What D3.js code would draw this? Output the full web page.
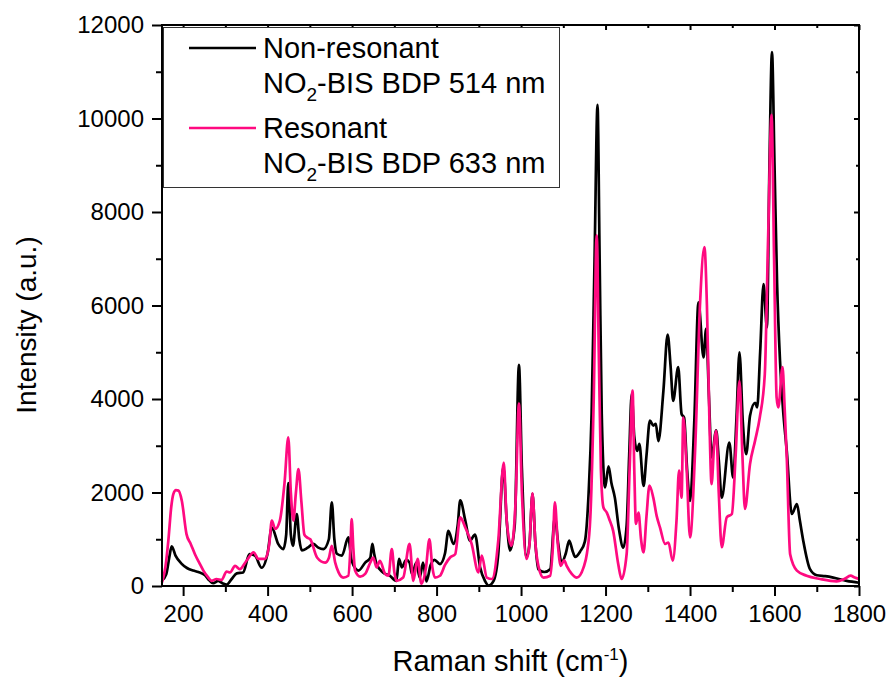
<!DOCTYPE html>
<html lang="en">
	<head>
		<meta charset="utf-8">
		<title>raman</title>
		<script src="https://d3js.org/d3.v7.min.js"></script>
		<style type="text/css">
		body { margin: 0; background: #fff; }
		text {
				font-family: "Liberation Sans", Arial, sans-serif;
				fill: #000;
		}
		</style>
	</head>
	<body>
		<script type="text/javascript">

			// Non-resonant, 514 nm (black)
			var shift514 = [150,160,167,173,182,196,210,224,236,252,262,271,283,293,303,315,327,342,357,370,386,400,410,425,437,444,449,455,460,469,475,481,495,508,520,532,545,552,558,564,576,591,599,615,631,643,648,652,658,673,689,705,711,718,728,736,742,752,760,768,776,786,795,808,820,828,840,850,856,868,879,891,903,915,923,935,946,958,966,974,985,995,1002,1013,1020,1027,1034,1041,1055,1069,1080,1088,1096,1106,1114,1122,1128,1140,1151,1160,1167,1174,1181,1186,1191,1199,1207,1214,1222,1232,1242,1250,1256,1262,1268,1275,1280,1290,1297,1305,1313,1319,1325,1337,1347,1354,1360,1372,1380,1386,1393,1400,1410,1420,1432,1438,1445,1451,1462,1468,1475,1493,1502,1510,1517,1525,1533,1542,1554,1559,1566,1574,1582,1588,1594,1600,1606,1613,1620,1629,1641,1653,1660,1668,1684,1700,1720,1739,1771,1800];
			var intensity514 = [120,250,600,850,650,480,380,330,300,230,120,60,110,60,30,150,270,290,680,650,390,700,1250,900,790,1100,2200,1100,860,1540,1000,760,820,900,820,790,1000,1790,1000,690,650,1040,540,330,500,600,900,700,470,290,220,110,580,400,560,500,250,500,180,500,100,450,560,470,700,1180,900,1300,1830,1400,970,1100,400,100,10,110,680,2550,1400,760,1300,4730,2500,610,900,1970,900,360,300,360,1470,900,500,700,970,750,620,740,950,2000,3680,7000,10290,7000,3680,2110,2560,2200,1890,1200,820,1300,2800,4110,3200,2890,3040,2140,2800,3540,3430,3470,3100,4180,5380,4700,3960,4680,3680,3600,2500,1820,3500,6070,4890,5500,4000,2750,3330,2700,1890,3070,2320,3600,5000,3500,2820,3640,3920,3820,5000,6460,5530,9000,11420,9000,6500,4820,3800,2890,1540,1750,1400,970,360,230,210,180,110,70];

			// Resonant, 633 nm (magenta)
			var shift633 = [150,158,165,172,177,183,189,197,208,218,228,238,248,258,268,279,291,303,311,323,334,350,367,378,394,404,410,418,429,440,449,455,461,467,473,480,487,493,501,517,536,545,552,560,568,579,591,596,599,603,607,619,631,643,650,658,666,678,686,694,700,705,721,736,745,755,764,775,783,790,796,808,820,832,844,856,868,883,899,907,919,931,946,959,966,977,987,995,1002,1013,1020,1027,1034,1041,1053,1069,1075,1080,1087,1094,1102,1108,1120,1132,1148,1156,1164,1172,1179,1184,1189,1195,1203,1210,1218,1230,1238,1250,1257,1264,1268,1272,1278,1284,1290,1297,1304,1313,1321,1329,1341,1349,1359,1368,1374,1380,1384,1392,1400,1412,1424,1434,1440,1446,1451,1457,1462,1468,1475,1487,1499,1508,1517,1524,1530,1542,1554,1565,1577,1585,1593,1599,1605,1609,1619,1624,1629,1637,1653,1676,1708,1747,1765,1780,1790,1800];
			var intensity633 = [80,400,970,1700,1970,2050,2040,1820,1110,900,680,500,330,200,110,150,130,310,290,430,360,540,720,580,580,900,1400,1220,1400,2200,3180,2000,1400,2000,2500,1800,1100,1040,1000,610,500,600,860,500,290,180,220,800,1430,800,330,200,260,500,610,400,540,260,220,790,300,110,180,900,110,580,50,400,1000,400,180,220,450,610,680,1470,1250,900,290,650,180,150,970,2640,1400,860,1800,3900,2000,580,900,1980,900,430,180,220,800,1790,900,430,550,430,260,180,400,700,1470,4000,7500,5000,2500,1680,1570,1400,1180,470,150,690,2500,4180,2500,1330,1570,1000,720,1500,2150,1890,1500,1250,900,930,540,1400,2470,1890,3600,2500,1040,2900,6100,7250,6000,3500,2180,3000,3320,2000,830,1470,1540,2800,4390,2800,1650,2610,3110,3600,4530,7500,10080,7000,4030,3820,4680,3800,2750,680,330,220,150,100,150,220,180,150];

			var xTicks = [200, 400, 600, 800, 1000, 1200, 1400, 1600, 1800];
			var yTicks = [0, 2000, 4000, 6000, 8000, 10000, 12000];

			var w = 890, h = 679;
			var pL = 162, pR = 859, pT = 25, pB = 586;

			var svg = d3.select("body").append("svg")
				.attr("width", w)
				.attr("height", h);

			var x = d3.scaleLinear().domain([150, 1800]).range([pL, pR]);
			var y = d3.scaleLinear().domain([0, 12000]).range([pB, pT]);

			// minor ticks
			var xMinor = d3.range(300, 1800, 200);
			var yMinor = d3.range(1000, 12000, 2000);

			function styleAxis(g) {
				g.select(".domain").remove();
				g.selectAll("line").attr("stroke", "#000").attr("stroke-width", 2);
			}

			// bottom
			svg.append("g").attr("transform", "translate(0," + pB + ")")
				.call(d3.axisBottom(x).tickValues(xTicks).tickSize(10).tickPadding(9).tickFormat(d3.format("d")))
				.call(styleAxis)
				.selectAll("text").style("font-size", "24px").attr("fill", "#000");
			svg.append("g").attr("transform", "translate(0," + pB + ")")
				.call(d3.axisBottom(x).tickValues(xMinor).tickSize(6).tickFormat(""))
				.call(styleAxis);
			// top
			svg.append("g").attr("transform", "translate(0," + pT + ")")
				.call(d3.axisBottom(x).tickValues(xTicks).tickSize(5).tickFormat(""))
				.call(styleAxis);
			svg.append("g").attr("transform", "translate(0," + pT + ")")
				.call(d3.axisBottom(x).tickValues(xMinor).tickSize(3).tickFormat(""))
				.call(styleAxis);
			// left
			svg.append("g").attr("transform", "translate(" + pL + ",0)")
				.call(d3.axisLeft(y).tickValues(yTicks).tickSize(10).tickPadding(8).tickFormat(d3.format("d")))
				.call(styleAxis)
				.selectAll("text").style("font-size", "24px").attr("fill", "#000");
			svg.append("g").attr("transform", "translate(" + pL + ",0)")
				.call(d3.axisLeft(y).tickValues(yMinor).tickSize(6).tickFormat(""))
				.call(styleAxis);
			// right
			svg.append("g").attr("transform", "translate(" + pR + ",0)")
				.call(d3.axisLeft(y).tickValues(yTicks).tickSize(5).tickFormat(""))
				.call(styleAxis);
			svg.append("g").attr("transform", "translate(" + pR + ",0)")
				.call(d3.axisLeft(y).tickValues(yMinor).tickSize(3).tickFormat(""))
				.call(styleAxis);

			var line = d3.line()
				.x(function(d) { return x(d[0]); })
				.y(function(d) { return y(d[1]); })
				.curve(d3.curveMonotoneX);

			var data514 = d3.zip(shift514, intensity514);
			var data633 = d3.zip(shift633, intensity633);

			svg.append("path").datum(data514)
				.attr("d", line)
				.attr("fill", "none").attr("stroke", "#000").attr("stroke-width", 2.7)
				.attr("stroke-linejoin", "round");

			svg.append("path").datum(data633)
				.attr("d", line)
				.attr("fill", "none").attr("stroke", "#ff0a80").attr("stroke-width", 2.7)
				.attr("stroke-linejoin", "round");

			// frame
			svg.append("rect")
				.attr("x", pL).attr("y", pT)
				.attr("width", pR - pL).attr("height", pB - pT)
				.attr("fill", "none").attr("stroke", "#000").attr("stroke-width", 2);

			// axis titles
			var xt = svg.append("text")
				.attr("x", (pL + pR) / 2).attr("y", 671)
				.attr("text-anchor", "middle")
				.style("font-size", "29px");
			xt.append("tspan").text("Raman shift (cm");
			xt.append("tspan").attr("dy", -11).style("font-size", "17px").text("-1");
			xt.append("tspan").attr("dy", 11).text(")");

			svg.append("text")
				.attr("transform", "translate(36,325) rotate(-90)")
				.attr("text-anchor", "middle")
				.style("font-size", "28px")
				.text("Intensity (a.u.)");

			// legend
			var lg = svg.append("g");
			lg.append("rect")
				.attr("x", 163.5).attr("y", 27.5).attr("width", 396).attr("height", 160)
				.attr("fill", "#fff").attr("stroke", "#333").attr("stroke-width", 1);

			var legendItems = [
				{ color: "#000", name: "Non-resonant", nm: "514 nm", y: 48 },
				{ color: "#ff0a80", name: "Resonant", nm: "633 nm", y: 128 }
			];
			legendItems.forEach(function(d) {
				lg.append("line")
					.attr("x1", 189).attr("x2", 256)
					.attr("y1", d.y).attr("y2", d.y)
					.attr("stroke", d.color).attr("stroke-width", 2.5);
				lg.append("text").attr("x", 263).attr("y", d.y + 10)
					.style("font-size", "29px").text(d.name);
				var t = lg.append("text").attr("x", 263).attr("y", d.y + 45)
					.style("font-size", "29px");
				t.append("tspan").text("NO");
				t.append("tspan").attr("dy", 8).style("font-size", "19px").text("2");
				t.append("tspan").attr("dy", -8).text("-BIS BDP " + d.nm);
			});

		</script>
	</body>
</html>
